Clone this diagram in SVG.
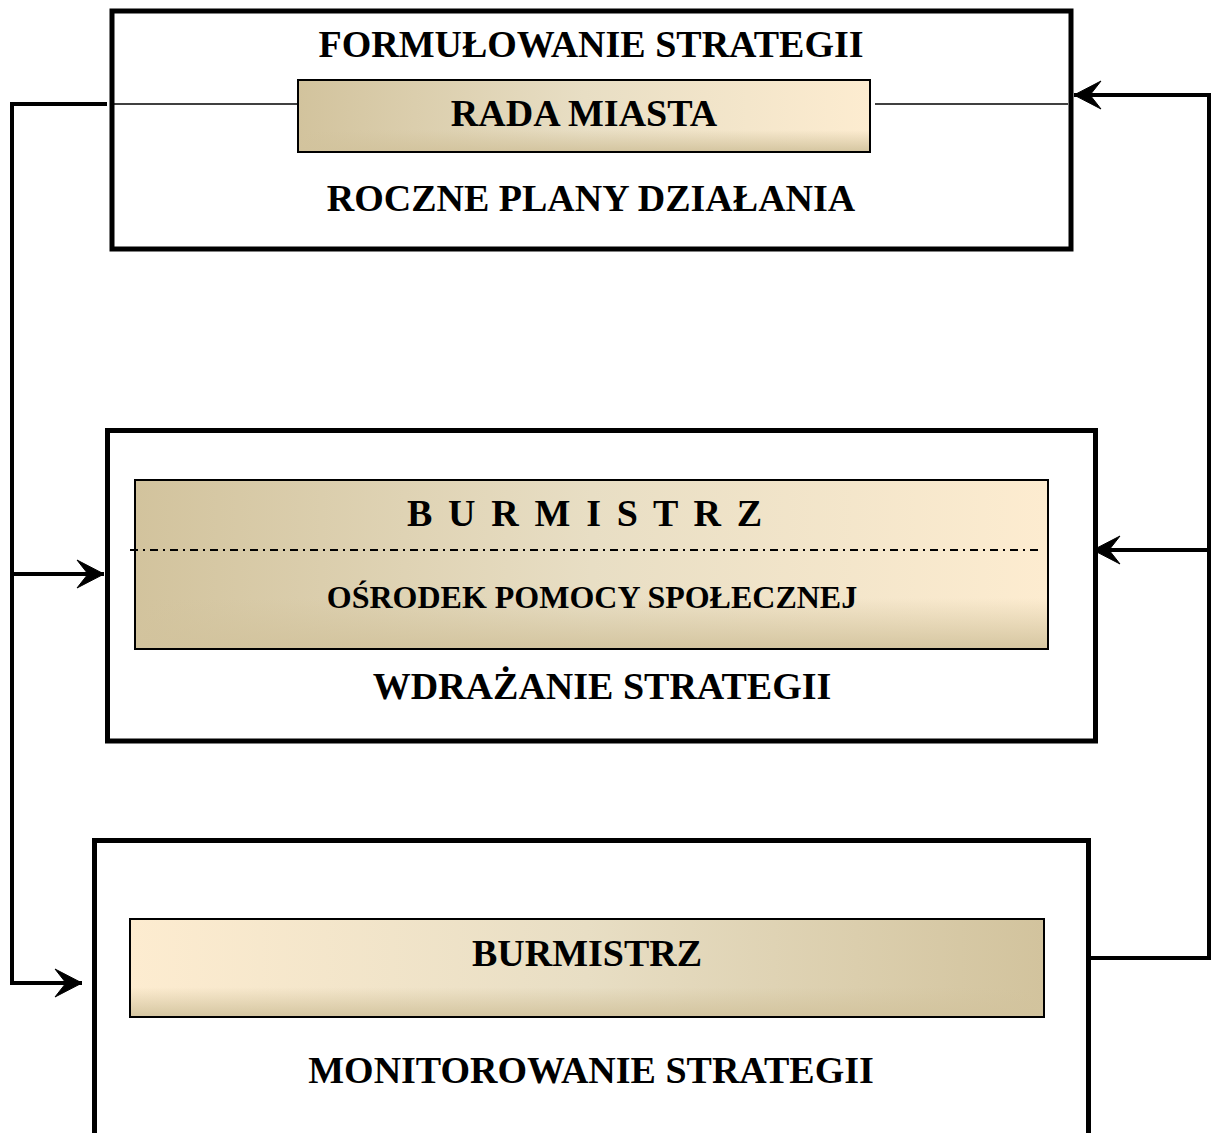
<svg xmlns="http://www.w3.org/2000/svg" width="1212" height="1133" viewBox="0 0 1212 1133">
<defs>
<linearGradient id="gH" x1="0" y1="0" x2="1" y2="0">
<stop offset="0" stop-color="#d2c39d"/>
<stop offset="0.5" stop-color="#e8dec4"/>
<stop offset="1" stop-color="#fdecd0"/>
</linearGradient>
<linearGradient id="gHr" x1="1" y1="0" x2="0" y2="0">
<stop offset="0" stop-color="#d2c39d"/>
<stop offset="0.5" stop-color="#e8dec4"/>
<stop offset="1" stop-color="#fdecd0"/>
</linearGradient>
<linearGradient id="gV" x1="0" y1="0" x2="0" y2="1">
<stop offset="0" stop-color="#d2c39d" stop-opacity="0"/>
<stop offset="0.7" stop-color="#d2c39d" stop-opacity="0"/>
<stop offset="1" stop-color="#d2c39d" stop-opacity="0.9"/>
</linearGradient>
<marker id="arr" viewBox="0 0 30 30" refX="29" refY="15" markerWidth="30" markerHeight="30" markerUnits="userSpaceOnUse" orient="auto">
<path d="M29,15 L2,1 Q9,10 13,15 Q9,20 2,29 Z" fill="#000" stroke="#000" stroke-width="1" stroke-linejoin="round"/>
</marker>
<style>
.outer{fill:#fff;stroke:#000;stroke-width:5}
.inner{stroke:#000;stroke-width:2}
.con{fill:none;stroke:#000;stroke-width:4}
.thin{fill:none;stroke:#000;stroke-width:1.6}
.t{font-family:"Liberation Serif","Times New Roman",serif;font-weight:bold;fill:#000;text-anchor:middle}
</style>
</defs>

<g id="node-formulowanie">
<rect class="outer" x="112" y="11" width="959" height="238"/>
<text class="t" x="591" y="57" font-size="38">FORMUŁOWANIE STRATEGII</text>
<rect class="inner" x="298" y="80" width="572" height="72" fill="url(#gH)"/>
<rect x="299" y="81" width="570" height="70" fill="url(#gV)"/>
<text class="t" x="584" y="126" font-size="38">RADA MIASTA</text>
<text class="t" x="591" y="211" font-size="38">ROCZNE PLANY DZIAŁANIA</text>
</g>

<g id="node-wdrazanie">
<rect class="outer" x="107.5" y="430.5" width="988" height="310.5"/>
<rect class="inner" x="135" y="480" width="913" height="169" fill="url(#gH)"/>
<rect x="136" y="481" width="911" height="167" fill="url(#gV)"/>
<text class="t" x="584.5" y="526" font-size="38" textLength="355" lengthAdjust="spacing">B U R M I S T R Z</text>
<line x1="130" y1="550" x2="1043" y2="550" stroke="#000" stroke-width="2.2" stroke-dasharray="8 5 2 5"/>
<text class="t" x="592" y="608" font-size="32">OŚRODEK POMOCY SPOŁECZNEJ</text>
<text class="t" x="602" y="699" font-size="38">WDRAŻANIE STRATEGII</text>
</g>

<g id="node-monitorowanie">
<path class="outer" d="M94.5,1140 V840.5 H1088.5 V1140"/>
<rect class="inner" x="130" y="919" width="914" height="98" fill="url(#gHr)"/>
<rect x="131" y="920" width="912" height="96" fill="url(#gV)"/>
<text class="t" x="587" y="966" font-size="38">BURMISTRZ</text>
<text class="t" x="591" y="1083" font-size="38">MONITOROWANIE STRATEGII</text>
</g>

<g id="connectors">
<line class="thin" x1="112" y1="104" x2="298" y2="104"/>
<line class="thin" x1="875" y1="104" x2="1068" y2="104"/>
<path class="con" d="M107,104 H12 V983 H82" marker-end="url(#arr)"/>
<path class="con" d="M12,574 H104" marker-end="url(#arr)"/>
<path class="con" d="M1091,958 H1209 V95 H1074" marker-end="url(#arr)"/>
<path class="con" d="M1209,550 H1093" marker-end="url(#arr)"/>
</g>
</svg>
